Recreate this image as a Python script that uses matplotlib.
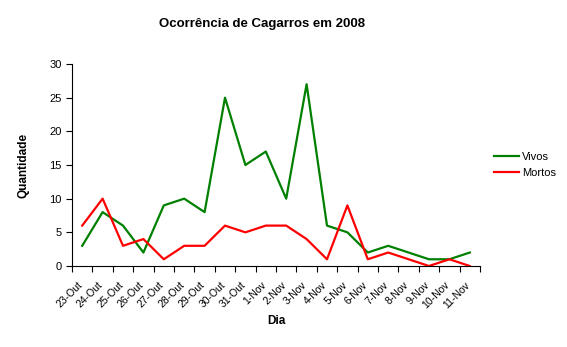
import numpy as np
import matplotlib
matplotlib.use("Agg")
from matplotlib import pyplot as plt
from matplotlib.transforms import ScaledTranslation

plt.rcParams['font.family'] = ['Liberation Sans', 'DejaVu Sans']

dias = ["23-Out", "24-Out", "25-Out", "26-Out", "27-Out", "28-Out", "29-Out",
        "30-Out", "31-Out", "1-Nov", "2-Nov", "3-Nov", "4-Nov", "5-Nov",
        "6-Nov", "7-Nov", "8-Nov", "9-Nov", "10-Nov", "11-Nov"]
vivos = [3, 8, 6, 2, 9, 10, 8, 25, 15, 17, 10, 27, 6, 5, 2, 3, 2, 1, 1, 2]
mortos = [6, 10, 3, 4, 1, 3, 3, 6, 5, 6, 6, 4, 1, 9, 1, 2, 1, 0, 1, 0]

fig = plt.figure(figsize=(5.67, 3.47), dpi=100)
ax = fig.add_axes([72 / 567, 1 - 266 / 347, 408 / 567, 202 / 347])

x = np.arange(len(dias))
ax.plot(x, vivos, color="#008000", lw=1.6, label="Vivos")
ax.plot(x, mortos, color="#ff0000", lw=1.6, label="Mortos")

ax.set_xlim(-0.5, len(dias) - 0.5)
ax.set_ylim(0, 30)
ax.set_yticks(range(0, 31, 5))
ax.set_xticks(x)
ax.set_xticklabels(dias, rotation=45, ha="right", rotation_mode="anchor")
ax.set_xticks(np.arange(-0.5, len(dias)), minor=True)
ax.tick_params(axis="x", which="major", length=0, labelsize=7.5, pad=10)
ax.tick_params(axis="x", which="minor", length=4, width=0.8, direction="out")
ax.tick_params(axis="y", length=4, width=0.8, labelsize=8)

# nudge the rotated day labels a little to the left
shift = ScaledTranslation(-5 / 100, 0, fig.dpi_scale_trans)
for lbl in ax.get_xticklabels():
    lbl.set_transform(lbl.get_transform() + shift)

for s in ["top", "right"]:
    ax.spines[s].set_visible(False)
for s in ["left", "bottom"]:
    ax.spines[s].set_linewidth(0.8)

ax.set_ylabel("Quantidade", fontsize=8.5, fontweight="bold", labelpad=14)
ax.set_xlabel("Dia", fontsize=8.5, fontweight="bold", labelpad=3)
fig.text(262 / 567, 1 - 24 / 347, "Ocorrência de Cagarros em 2008",
         ha="center", va="center", fontsize=9.5, fontweight="bold")

ax.legend(loc="center left", bbox_to_anchor=(1.01, 0.5), frameon=False,
          fontsize=8, handlelength=2.2, handletextpad=0.3, labelspacing=0.5)

fig.savefig("out.png", dpi=100)
